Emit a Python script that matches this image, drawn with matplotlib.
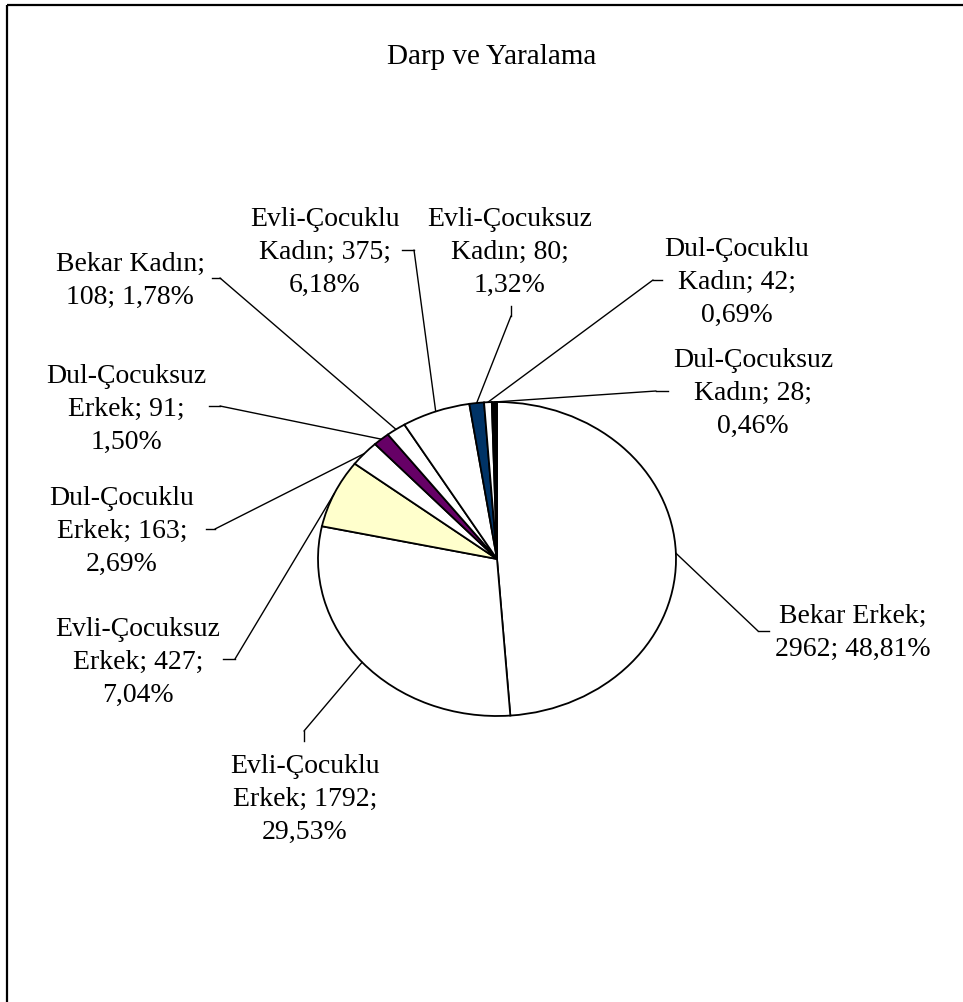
import matplotlib
matplotlib.use('Agg')
import matplotlib.pyplot as plt
import numpy as np
from matplotlib.patches import Rectangle, ConnectionPatch
from matplotlib.lines import Line2D

plt.rcParams['font.family'] = ['Liberation Serif', 'DejaVu Serif']

title = "Darp ve Yaralama"
categories = ["Bekar Erkek", "Evli-Çocuklu Erkek", "Evli-Çocuksuz Erkek",
              "Dul-Çocuklu Erkek", "Dul-Çocuksuz Erkek", "Bekar Kadın",
              "Evli-Çocuklu Kadın", "Evli-Çocuksuz Kadın", "Dul-Çocuklu Kadın",
              "Dul-Çocuksuz Kadın"]
values = [2962, 1792, 427, 163, 91, 108, 375, 80, 42, 28]
colors = ["#FFFFFF", "#FFFFFF", "#FFFFCC", "#FFFFFF", "#660066",
          "#FFFFFF", "#FFFFFF", "#003366", "#FFFFFF", "#000000"]

# label wrapping style: 'A' -> "w1\nw2; v;\np"   'B' -> "name;\nv; p"
wrap_style = ["B", "A", "A", "A", "A", "B", "A", "A", "A", "A"]

total = sum(values)


def make_label(cat, v, style):
    pct = f"{v / total * 100:.2f}".replace(".", ",") + "%"
    if style == "B":
        return f"{cat};\n{v}; {pct}"
    w1, w2 = cat.split(" ", 1)
    return f"{w1}\n{w2}; {v};\n{pct}"


W, H = 963, 1003
fig = plt.figure(figsize=(W / 100, H / 100), dpi=100)

# pie (elliptical) axes
cx, cy, rx, ry = 497, 560, 179, 157
pax = fig.add_axes([(cx - rx) / W, (H - cy - ry) / H, 2 * rx / W, 2 * ry / H])
wedges, _ = pax.pie(values, colors=colors, startangle=90, counterclock=False,
                    wedgeprops=dict(edgecolor='black', linewidth=1.3))
for w in wedges:
    w.set_clip_on(False)
pax.set_aspect('auto')
pax.set_xlim(-1, 1)
pax.set_ylim(-1, 1)
pax.axis('off')

# overlay axes in pixel coordinates (y down)
ov = fig.add_axes([0, 0, 1, 1], zorder=3)
ov.set_xlim(0, W)
ov.set_ylim(H, 0)
ov.axis('off')
ov.patch.set_alpha(0)

# figure border
ov.add_patch(Rectangle((7, 6), W + 20, H + 20, fill=False, edgecolor='black',
                       linewidth=1.6, clip_on=False))

ov.text(492, 57, title, ha='center', va='center', fontsize=21)

text_pos = [(853, 633), (305, 799), (138, 662), (122, 531), (126, 409),
            (130, 281), (325, 252), (510, 252), (737, 282), (753, 393)]
leaders = [
    [(769, 632), (758, 632)],
    [(304, 742), (304, 732)],
    [(223, 660), (235, 660)],
    [(206, 530), (215, 530)],
    [(209, 407), (220, 407)],
    [(212, 279), (220, 279)],
    [(402, 251), (414, 251)],
    [(511, 307), (511, 317)],
    [(662, 281), (653, 281)],
    [(668, 392), (656, 392)],
]

for cat, v, st, w, (tx, ty), pts in zip(categories, values, wrap_style, wedges,
                                          text_pos, leaders):
    ov.text(tx, ty, make_label(cat, v, st), ha='center', va='center',
            multialignment='center', fontsize=20, linespacing=1.42)
    xs = [p[0] for p in pts]
    ys = [p[1] for p in pts]
    ov.add_line(Line2D(xs, ys, color='black', linewidth=1.0))
    mid = np.deg2rad((w.theta1 + w.theta2) / 2)
    con = ConnectionPatch(xyA=pts[-1], coordsA=ov.transData,
                          xyB=(np.cos(mid), np.sin(mid)), coordsB=pax.transData,
                          color='black', linewidth=1.0)
    fig.add_artist(con)

fig.savefig('out.png', dpi=100)
